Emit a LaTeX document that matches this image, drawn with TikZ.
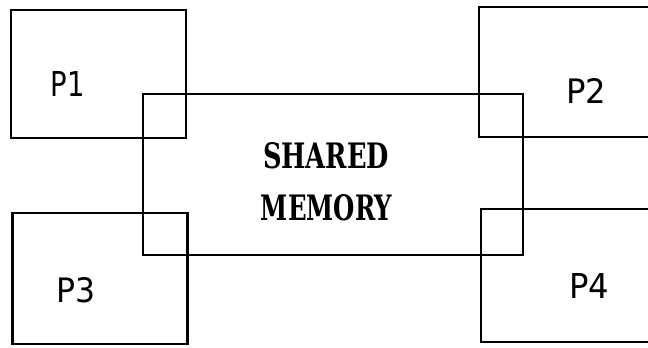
\documentclass[tikz,border=0pt]{standalone}
\usepackage{fontspec}
\setsansfont{DejaVu Sans}
\setmainfont{DejaVu Serif}
\begin{document}
\begin{tikzpicture}[x=1bp,y=-1bp,
  box/.style={draw=black, line width=2.3bp, rectangle, inner sep=0pt, outer sep=0pt},
  plabel/.style={anchor=base, inner sep=0pt, font=\sffamily},
  memlabel/.style={anchor=base, inner sep=0pt, font=\rmfamily\bfseries}]
\clip (0,0) rectangle (648,347);
\fill[white] (0,0) rectangle (648,347);
% processor boxes
\node[box, minimum width=175bp, minimum height=128bp] (p1) at (98.5,74) {};
\node[box, minimum width=181bp, minimum height=130bp] (p2) at (569.5,72) {};
\node[box, minimum width=175bp, minimum height=131bp] (p3) at (100,278.5) {};
\node[box, minimum width=179bp, minimum height=133bp] (p4) at (570.5,275.5) {};
% shared memory box
\node[box, minimum width=380bp, minimum height=161bp] (mem) at (333,174.5) {};
% labels
\node[plabel] (l1) at (67.5,96) {\resizebox{34bp}{25bp}{P1}};
\node[plabel] (l2) at (586,103) {\resizebox{40bp}{25bp}{P2}};
\node[plabel] (l3) at (76.5,302) {\resizebox{39bp}{25bp}{P3}};
\node[plabel] (l4) at (589,298) {\resizebox{40bp}{25bp}{P4}};
\node[memlabel] (m1) at (326,168) {\resizebox{126bp}{26bp}{SHARED}};
\node[memlabel] (m2) at (326.5,220) {\resizebox{131bp}{26bp}{MEMORY}};
\end{tikzpicture}
\end{document}
